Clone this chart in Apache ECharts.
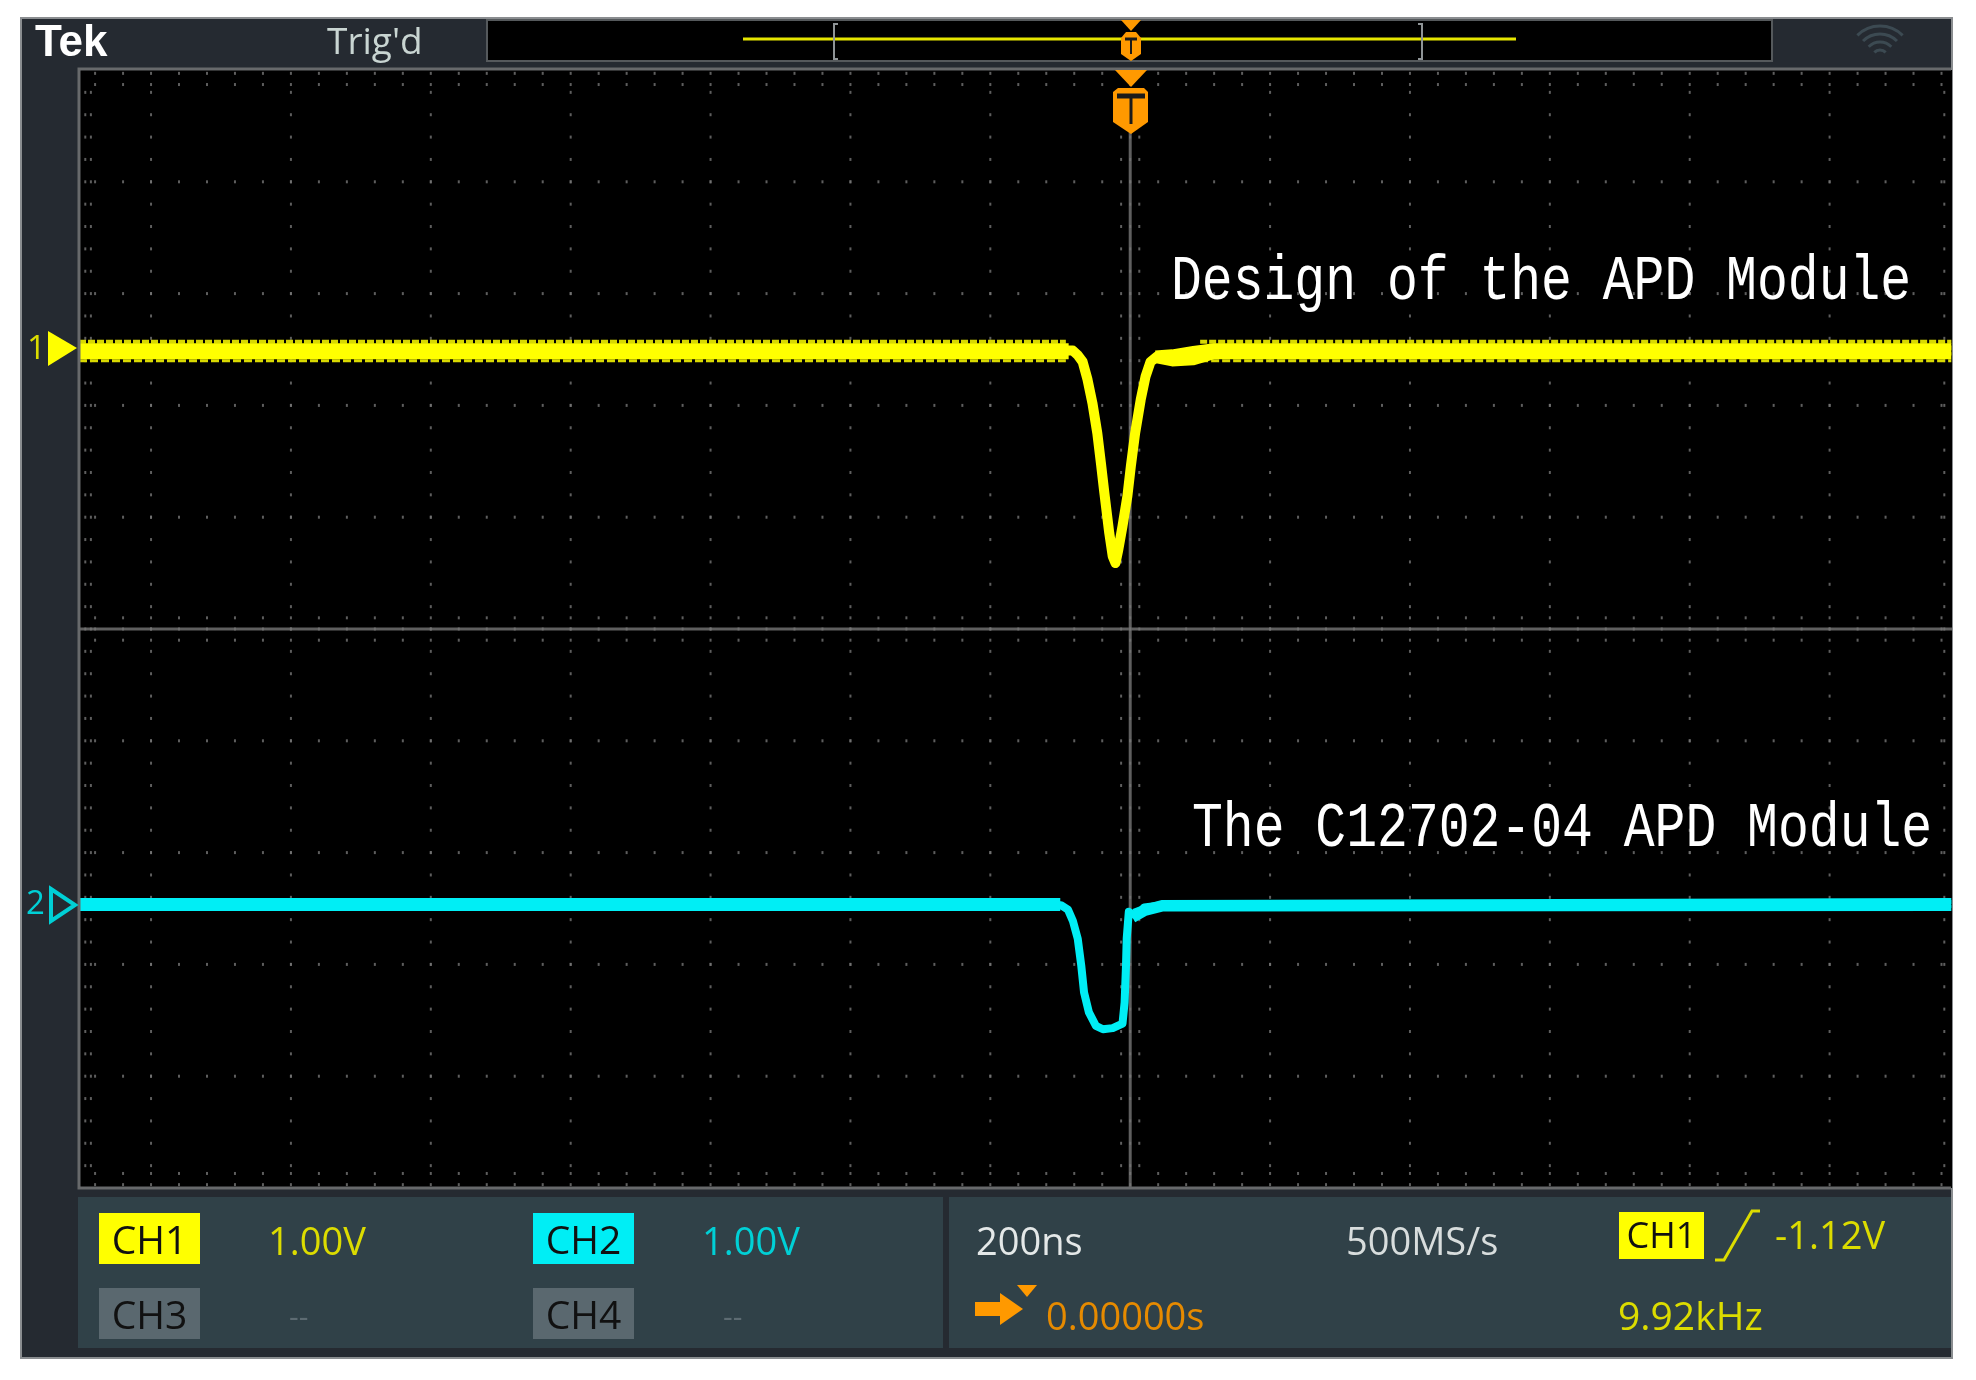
<!DOCTYPE html>
<html>
<head>
<meta charset="utf-8">
<style>
  html, body { margin: 0; padding: 0; background: #fff; }
  #main { width: 1976px; height: 1380px; }
</style>
<script src="https://cdn.jsdelivr.net/npm/echarts@6/dist/echarts.min.js"></script>
</head>
<body>
<div id="main"></div>
<script>
// time in ns from the trigger, voltage in V from each channel's own ground marker
const ch1Times = [-1503, -900, -300, -82, -75, -68, -61, -54, -47, -42, -37, -30, -25, -21, -17, -11, -4, 1, 7, 15, 22, 29, 39, 60, 79, 94, 108, 400, 800, 1174];
const ch1Volts = [0, 0, 0, 0, -0.04, -0.1, -0.26, -0.47, -0.74, -1, -1.27, -1.63, -1.84, -1.9, -1.78, -1.57, -1.3, -1.03, -0.74, -0.44, -0.23, -0.1, -0.05, -0.08, -0.07, -0.04, -0.01, 0, 0, 0];
const ch2Times = [-1503, -900, -300, -99, -89, -82, -75, -70, -66, -59, -49, -39, -25, -11, -8, -6, -5, -2, 3, 10, 20, 46, 400, 800, 1174];
const ch2Volts = [0, 0, 0, -0.01, -0.05, -0.15, -0.31, -0.55, -0.79, -0.97, -1.09, -1.12, -1.11, -1.07, -0.88, -0.55, -0.31, -0.07, -0.09, -0.1, -0.03, -0.01, 0, 0, 0];

// thick persistence band on the flat parts of the traces, null breaks it over the pulse
const ch1BandTimes = [-1503, -88, null, 36, 60, 90, 120, 1174];
const ch1BandUpper = [0.035, 0.035, null, -0.03, -0.02, 0.01, 0.035, 0.035];
const ch1BandLower = [-0.045, -0.045, null, -0.08, -0.11, -0.1, -0.045, -0.045];
const ch1SpeckTimes = [-1503, -92, null, 100, 1174];
const ch1SpeckUpper = [0.08, 0.08, null, 0.08, 0.08];
const ch1SpeckLower = [-0.09, -0.09, null, -0.09, -0.09];
const ch2BandTimes = [-1503, -100, null, 5, 22, 46, 1174];
const ch2BandUpper = [0.027, 0.027, null, -0.07, -0.03, 0.01, 0.027];
const ch2BandLower = [-0.036, -0.036, null, -0.14, -0.08, -0.04, -0.036];

const majorTimes = [-1400, -1200, -1000, -800, -600, -400, -200, 0, 200, 400, 600, 800, 1000];
const minorTimes = [-1480, -1440, -1400, -1360, -1320, -1280, -1240, -1200, -1160, -1120, -1080, -1040, -1000, -960, -920, -880, -840, -800, -760, -720, -680, -640, -600, -560, -520, -480, -440, -400, -360, -320, -280, -240, -200, -160, -120, -80, -40, 0, 40, 80, 120, 160, 200, 240, 280, 320, 360, 400, 440, 480, 520, 560, 600, 640, 680, 720, 760, 800, 840, 880, 920, 960, 1000, 1040, 1080, 1120, 1160];
const edgeTimes = [-1494, -1486, -13, 13, 1164];
const majorDivs = [-4, -3, -2, -1, 0, 1, 2, 3, 4];
const minorDivs = [-4.8, -4.6, -4.4, -4.2, -4, -3.8, -3.6, -3.4, -3.2, -3, -2.8, -2.6, -2.4, -2.2, -2, -1.8, -1.6, -1.4, -1.2, -1, -0.8, -0.6, -0.4, -0.2, 0, 0.2, 0.4, 0.6, 0.8, 1, 1.2, 1.4, 1.6, 1.8, 2, 2.2, 2.4, 2.6, 2.8, 3, 3.2, 3.4, 3.6, 3.8, 4, 4.2, 4.4, 4.6, 4.8];
const edgeDivs = [-4.97, -4.87, -0.1, 0.1, 4.87, 4.97];

const zip = (xs, ys) => xs.map((x, i) => (x === null ? [null, null] : [x, ys[i]]));

const graticule = [];
majorTimes.forEach(t => minorDivs.forEach(d => graticule.push([t, d])));
minorTimes.forEach(t => majorDivs.forEach(d => graticule.push([t, d])));
edgeTimes.forEach(t => minorDivs.forEach(d => graticule.push([t, d])));
minorTimes.forEach(t => edgeDivs.forEach(d => graticule.push([t, d])));

const yellow = '#ffff00';
const cyan = '#00eef5';
const dimYellow = '#dcdc00';
const dimCyan = '#00d0d6';
const orange = '#ff9900';
const uiFont = '"Open Sans"';

const chart = echarts.init(document.getElementById('main'), null, { renderer: 'canvas' });

function traceSeries(name, yIndex, data, color, width, extra) {
    return Object.assign({
        name: name,
        type: 'line',
        xAxisIndex: 0,
        yAxisIndex: yIndex,
        data: data,
        showSymbol: false,
        silent: true,
        connectNulls: false,
        lineStyle: { color: color, width: width, cap: 'butt', join: 'round' },
        z: 4
    }, extra || {});
}

function label(text, x, y, size, fill, align, font) {
    return {
        type: 'text', x: x, y: y + 3, z: 20, silent: true,
        style: {
            text: text, fill: fill, align: align || 'left', verticalAlign: 'middle',
            font: size + 'px ' + (font || uiFont)
        }
    };
}

// captions are fixed pitch in the picture, about 31px a character and tall
function caption(text, x, y) {
    const el = label(text, x, y, 51.4, '#ffffff', 'left', '"Liberation Mono"');
    el.scaleY = 1.22;
    return el;
}

function box(x, y, w, h, fill, stroke) {
    return {
        type: 'rect', z: -10, silent: true, shape: { x: x, y: y, width: w, height: h },
        style: { fill: fill, stroke: stroke || null, lineWidth: stroke ? 2 : 0 }
    };
}

function poly(points, fill, stroke, lineWidth) {
    return {
        type: 'polygon', z: 20, silent: true, shape: { points: points },
        style: { fill: fill, stroke: stroke || null, lineWidth: lineWidth || 0 }
    };
}

function strokeLine(points, color, width) {
    return {
        type: 'polyline', z: 20, silent: true, shape: { points: points },
        style: { fill: null, stroke: color, lineWidth: width }
    };
}

function wifiArc(r) {
    return {
        type: 'arc', z: 20, silent: true,
        shape: { cx: 1880, cy: 58, r: r, startAngle: -Math.PI * 0.75, endAngle: -Math.PI * 0.25 },
        style: { fill: null, stroke: '#3c4a52', lineWidth: 3 }
    };
}

const tekLabel = label('Tek', 35, 41, 44, '#ffffff', 'left', '"Liberation Sans"');
tekLabel.style.font = 'bold 44px "Liberation Sans"';

const graphics = [
    // instrument frame and panels
    box(21, 18, 1931, 1340, '#252a31', '#8a8d90'),
    box(487, 20, 1285, 41, '#000000', '#55595c'),
    box(78, 1197, 865, 151, '#304148'),
    box(949, 1197, 1002, 151, '#304148'),

    // graticule border, open on the right like the scope screen
    strokeLine([[1951, 69], [79, 69], [79, 1188], [1951, 1188]], '#67696b', 3),

    // header
    tekLabel,
    label("Trig'd", 327, 40, 37, '#c9d5d2'),
    strokeLine([[743, 39], [1516, 39]], '#e6e600', 3),
    strokeLine([[838, 24], [834, 24], [834, 59], [838, 59]], '#8f9496', 2),
    strokeLine([[1418, 24], [1422, 24], [1422, 59], [1418, 59]], '#8f9496', 2),
    poly([[1121, 20], [1141, 20], [1131, 31]], orange),
    poly([[1126, 32], [1136, 32], [1141, 38], [1141, 54], [1131, 61], [1121, 54], [1121, 38]], orange),
    strokeLine([[1125, 39], [1137, 39]], '#1a1a1a', 3),
    strokeLine([[1131, 39], [1131, 54]], '#1a1a1a', 2),
    wifiArc(8), wifiArc(16), wifiArc(24), wifiArc(32),

    // trigger marker on the graticule
    poly([[1115, 70], [1147, 70], [1131, 87]], orange),
    poly([[1118, 88], [1144, 88], [1148, 92], [1148, 122], [1131, 134], [1113, 122], [1113, 92]], orange),
    strokeLine([[1117, 96], [1145, 96]], '#1a1a1a', 5),
    strokeLine([[1131, 96], [1131, 124]], '#1a1a1a', 3),

    // channel ground markers
    label('1', 27, 347, 33, dimYellow),
    poly([[48, 331], [77, 348], [48, 366]], yellow),
    label('2', 26, 902, 33, dimCyan),
    poly([[51, 889], [75, 905], [51, 921]], null, dimCyan, 4),

    // overlaid captions
    caption('Design of the APD Module', 1171, 279),
    caption('The C12702-04 APD Module', 1192, 826),

    // channel readouts
    box(99, 1213, 101, 51, yellow),
    label('CH1', 149.5, 1240, 39, '#111111', 'center'),
    label('1.00V', 268, 1241, 38, dimYellow),
    box(533, 1213, 101, 51, cyan),
    label('CH2', 583.5, 1240, 39, '#111111', 'center'),
    label('1.00V', 702, 1241, 38, dimCyan),
    box(99, 1288, 101, 51, '#5a686f'),
    label('CH3', 149.5, 1315, 39, '#111111', 'center'),
    label('--', 289, 1315, 30, '#5d6b72'),
    box(533, 1288, 101, 51, '#5a686f'),
    label('CH4', 583.5, 1315, 39, '#111111', 'center'),
    label('--', 723, 1315, 30, '#5d6b72'),

    // timebase and trigger readouts
    label('200ns', 976, 1241, 38, '#e4e8e8'),
    label('500MS/s', 1346, 1241, 38, '#d8dddd'),
    poly([[975, 1302], [1000, 1302], [1000, 1293], [1023, 1309], [1000, 1325], [1000, 1316], [975, 1316]], orange),
    poly([[1017, 1285], [1037, 1285], [1027, 1297]], orange),
    label('0.00000s', 1046, 1316, 38, '#e68a00'),
    box(1619, 1212, 85, 47, yellow),
    label('CH1', 1661.5, 1235, 36, '#111111', 'center'),
    strokeLine([[1715, 1260], [1724, 1260], [1752, 1211], [1760, 1211]], dimYellow, 3),
    label('-1.12V', 1775, 1235, 38, dimYellow),
    label('9.92kHz', 1618, 1316, 39, dimYellow)
];

const option = {
    animation: false,
    backgroundColor: '#ffffff',
    grid: {
        left: 79, top: 70, width: 1873, height: 1118,
        show: true, backgroundColor: '#000000', borderWidth: 0
    },
    xAxis: [{ type: 'value', min: -1503, max: 1175, show: false }],
    yAxis: [
        { type: 'value', min: -7.49, max: 2.51, show: false },
        { type: 'value', min: -2.54, max: 7.46, show: false },
        { type: 'value', min: -5, max: 5, show: false }
    ],
    graphic: { elements: graphics },
    series: [
        {
            name: 'graticule', type: 'scatter', yAxisIndex: 2, data: graticule,
            symbol: 'rect', symbolSize: [2, 3], silent: true, z: 1,
            itemStyle: { color: '#767676' }
        },
        traceSeries('centre x', 2, [[-1503, 0], [1175, 0]], '#5f5f5f', 3, { z: 1 }),
        traceSeries('centre y', 2, [[0, -5], [0, 4.55]], '#5f5f5f', 3, { z: 1 }),
        traceSeries('CH1 speck upper', 0, zip(ch1SpeckTimes, ch1SpeckUpper), '#d9d900', 4, { z: 3, lineStyle: { color: '#d9d900', width: 4, type: [7, 2] } }),
        traceSeries('CH1 speck lower', 0, zip(ch1SpeckTimes, ch1SpeckLower), '#d9d900', 3, { z: 3, lineStyle: { color: '#d9d900', width: 3, type: [8, 3] } }),
        traceSeries('CH1 band upper', 0, zip(ch1BandTimes, ch1BandUpper), yellow, 7),
        traceSeries('CH1 band lower', 0, zip(ch1BandTimes, ch1BandLower), yellow, 7),
        traceSeries('CH1', 0, zip(ch1Times, ch1Volts), yellow, 10),
        traceSeries('CH2 band upper', 1, zip(ch2BandTimes, ch2BandUpper), cyan, 6),
        traceSeries('CH2 band lower', 1, zip(ch2BandTimes, ch2BandLower), cyan, 6),
        traceSeries('CH2', 1, zip(ch2Times, ch2Volts), cyan, 8)
    ]
};

chart.setOption(option);
</script>
</body>
</html>
